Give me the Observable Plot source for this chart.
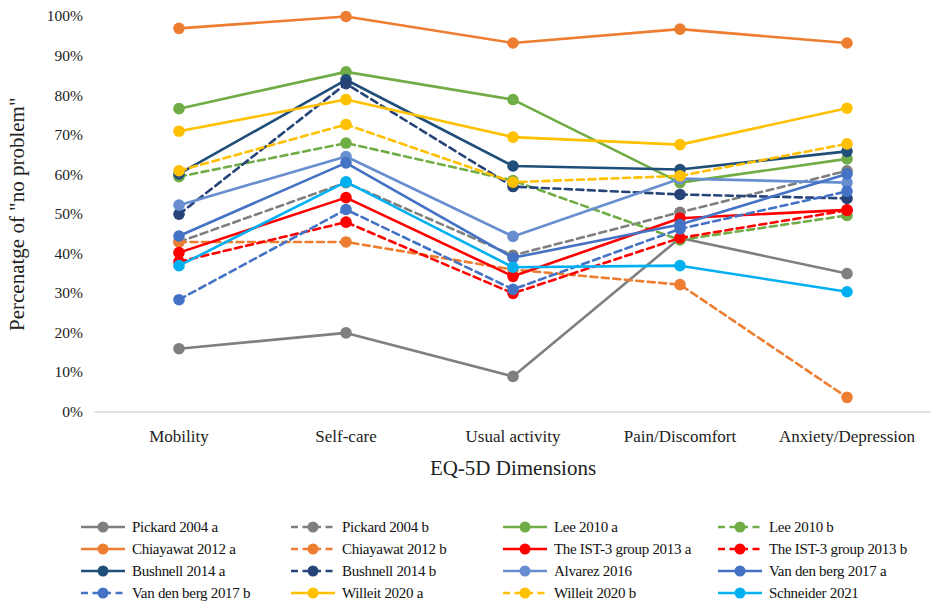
<!DOCTYPE html>
<html>
<head>
<meta charset="utf-8">
<script src="https://cdn.jsdelivr.net/npm/d3@7"></script>
<script src="https://cdn.jsdelivr.net/npm/@observablehq/plot@0.6"></script>
<style>
  body { margin: 0; background: #fff; font-family: "Liberation Serif", serif; }
  #chart svg { display: block; }
  #legend { display: grid; grid-template-columns: 210px 212px 215px 200px; margin-left: 80px; margin-top: 26px; row-gap: 0; }
  .item { display: flex; align-items: center; height: 22px; font-family: "Liberation Serif", serif; font-size: 15px; color: #111; white-space: nowrap; letter-spacing: -0.3px; }
  .item svg { margin-right: 6px; flex: none; }
</style>
</head>
<body>
<div id="chart"></div>
<div id="legend"></div>
<script>
const dims = ["Mobility", "Self-care", "Usual activity", "Pain/Discomfort", "Anxiety/Depression"];
const yTicks = [0, 10, 20, 30, 40, 50, 60, 70, 80, 90, 100];

const seriesNames = [
  "Pickard 2004 a", "Pickard 2004 b", "Lee 2010 a", "Lee 2010 b",
  "Chiayawat 2012 a", "Chiayawat 2012 b", "The IST-3 group 2013 a", "The IST-3 group 2013 b",
  "Bushnell 2014 a", "Bushnell 2014 b", "Alvarez 2016", "Van den berg 2017 a",
  "Van den berg 2017 b", "Willeit 2020 a", "Willeit 2020 b", "Schneider 2021"
];

const pickardA    = [16, 20, 9, 44, 35];
const pickardB    = [43, 58, 39.6, 50.5, 61];
const leeA        = [76.7, 86, 79, 58, 64];
const leeB        = [59.5, 68, 58.5, 43.5, 49.7];
const chiayawatA  = [97, 100, 93.3, 96.8, 93.3];
const chiayawatB  = [43, 43, 36, 32.2, 3.7];
const ist3A       = [40.3, 54.2, 34.3, 49, 51.1];
const ist3B       = [38, 48, 30, 44, 51];
const bushnellA   = [60.2, 84, 62.2, 61.3, 65.9];
const bushnellB   = [50, 83, 57, 55, 54];
const alvarez     = [52.3, 64.6, 44.4, 59, 58];
const vandenbergA = [44.5, 63, 39, 47.4, 60.2];
const vandenbergB = [28.4, 51.2, 31, 46.3, 55.8];
const willeitA    = [71, 79, 69.5, 67.6, 76.8];
const willeitB    = [61, 72.7, 58.1, 59.7, 67.8];
const schneider   = [37, 58.2, 36.6, 37, 30.4];

const seriesValues = [pickardA, pickardB, leeA, leeB, chiayawatA, chiayawatB, ist3A, ist3B,
  bushnellA, bushnellB, alvarez, vandenbergA, vandenbergB, willeitA, willeitB, schneider];

const seriesColors = ["#7f7f7f", "#7f7f7f", "#70ad47", "#70ad47", "#ed7d31", "#ed7d31", "#ff0000", "#ff0000",
  "#1f4e79", "#264478", "#698ed0", "#4472c4", "#4472c4", "#ffc000", "#ffc000", "#00b0f0"];
const seriesDashed = [false, true, false, true, false, true, false, true,
  false, true, false, false, true, false, true, false];

const serif = "Liberation Serif, serif";

const marks = [
  Plot.ruleY([0], {stroke: "#d9d9d9", strokeWidth: 1.3})
];
seriesNames.forEach((name, i) => {
  const rows = dims.map((d, j) => ({dim: d, value: seriesValues[i][j], series: name}));
  marks.push(Plot.line(rows, {
    x: "dim", y: "value", stroke: seriesColors[i], strokeWidth: 2.6,
    strokeDasharray: seriesDashed[i] ? "7,4.5" : null, curve: "linear"
  }));
  marks.push(Plot.dot(rows, {x: "dim", y: "value", fill: seriesColors[i], r: 5.8, stroke: "none"}));
});

marks.push(Plot.axisY({
  ticks: yTicks, tickFormat: d => d + "%", tickSize: 0, tickPadding: 12,
  fontSize: 15.5, fontFamily: serif, label: "Percenatge of \"no problem\"", labelAnchor: "center", labelArrow: "none",
  labelOffset: 86
}));
marks.push(Plot.axisX({
  tickSize: 0, tickPadding: 18, fontSize: 17, fontFamily: serif,
  label: "EQ-5D Dimensions", labelAnchor: "center", labelArrow: "none", labelOffset: 63
}));

const chart = Plot.plot({
  width: 935,
  height: 490,
  marginLeft: 94.5,
  marginRight: 4.5,
  marginTop: 16,
  marginBottom: 78.5,
  style: {fontFamily: serif, fontSize: "15px", color: "#222", background: "#fff"},
  x: {type: "band", domain: dims, padding: 0},
  y: {domain: [0, 100]},
  marks
});
document.getElementById("chart").appendChild(chart);

// style axis titles larger
chart.querySelectorAll("g[aria-label='y-axis label'] text, g[aria-label='x-axis label'] text").forEach(t => {
  t.setAttribute("font-size", "21");
  t.style.fontSize = "21px";
});

// legend
const legend = document.getElementById("legend");
seriesNames.forEach((name, i) => {
  const item = document.createElement("div");
  item.className = "item";
  const dash = seriesDashed[i] ? ` stroke-dasharray="7,4.5"` : "";
  item.innerHTML = `<svg width="46" height="14"><line x1="1" y1="7" x2="45" y2="7" stroke="${seriesColors[i]}" stroke-width="2.6"${dash}/><circle cx="23" cy="7" r="5.5" fill="${seriesColors[i]}"/></svg><span>${name}</span>`;
  legend.appendChild(item);
});
</script>
</body>
</html>
